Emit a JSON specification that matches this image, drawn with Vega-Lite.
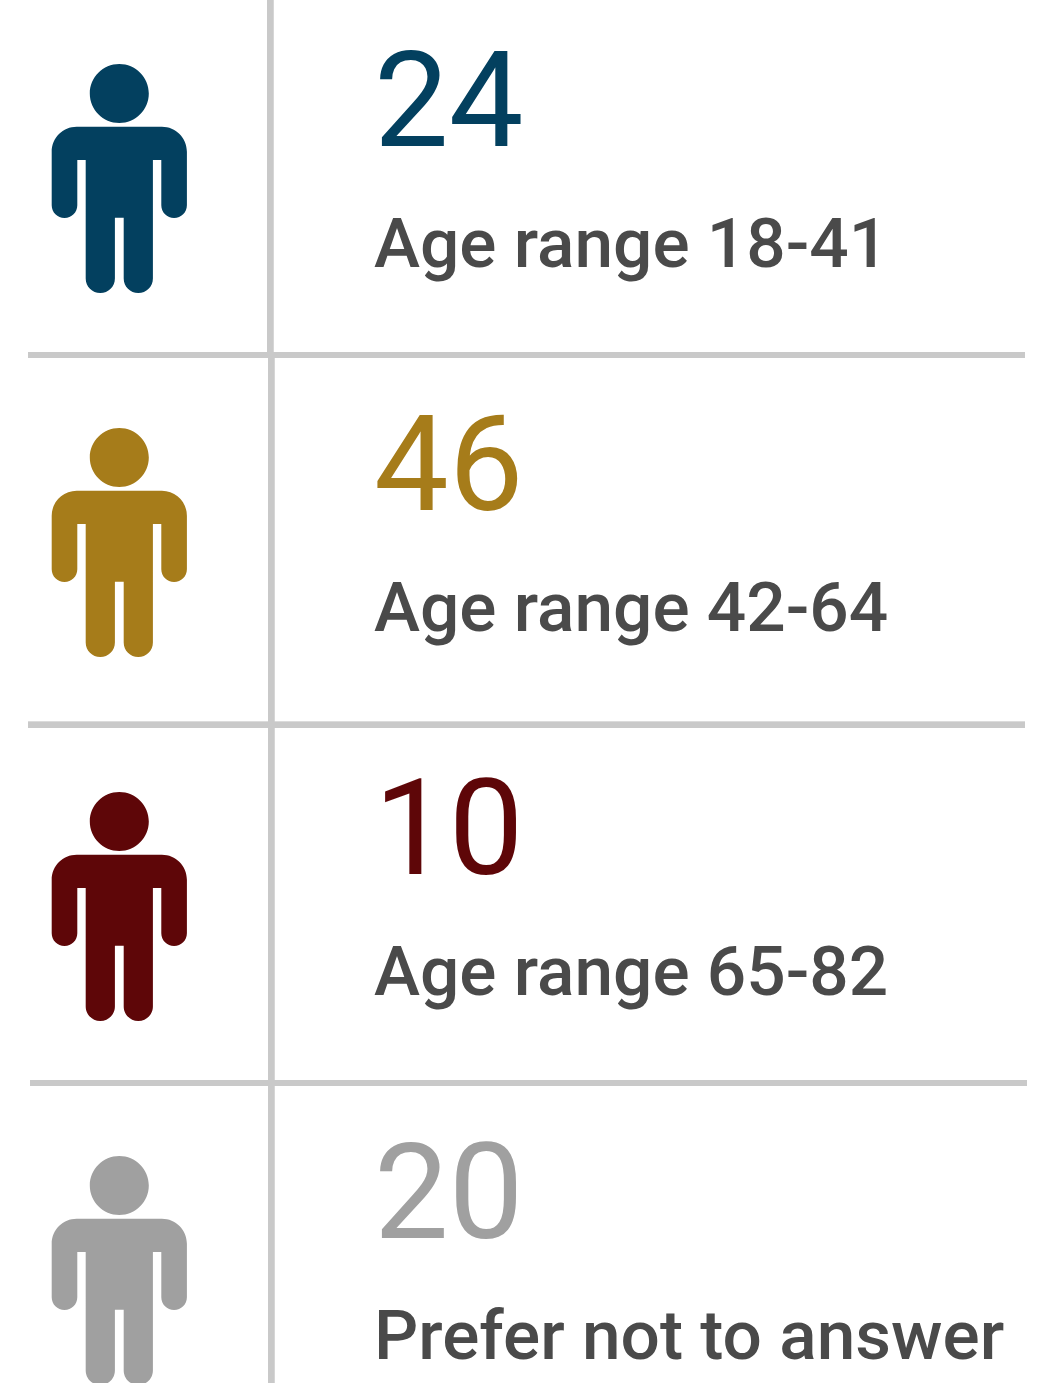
{
  "$schema": "https://vega.github.io/schema/vega-lite/v6.json",
  "width": 1062,
  "height": 1383,
  "autosize": {"type": "fit", "contains": "padding"},
  "padding": 0,
  "background": "#ffffff",
  "config": {"view": {"stroke": null}},
  "data": {"values": [
    {"row": 0, "count": 24, "label": "Age range 18-41", "group": "18-41"},
    {"row": 1, "count": 46, "label": "Age range 42-64", "group": "42-64"},
    {"row": 2, "count": 10, "label": "Age range 65-82", "group": "65-82"},
    {"row": 3, "count": 20, "label": "Prefer not to answer", "group": "No answer"}
  ]},
  "encoding": {
    "y": {"field": "row", "type": "quantitative", "axis": null, "scale": {"domain": [-0.489, 3.3104], "reverse": true, "nice": false, "zero": false}}
  },
  "layer": [
    {
      "mark": {"type": "rule", "clip": true, "stroke": "#c9c9c9", "strokeWidth": 6},
      "encoding": {
        "x": {"datum": 270.3, "type": "quantitative", "axis": null, "scale": {"domain": [0, 1062], "nice": false, "zero": false}},
        "y": {"datum": -0.489, "type": "quantitative"},
        "y2": {"datum": 0.4863}
      }
    },
    {
      "mark": {"type": "rule", "clip": true, "stroke": "#c9c9c9", "strokeWidth": 6},
      "encoding": {
        "x": {"datum": 271.3, "type": "quantitative"},
        "y": {"datum": 0.4863, "type": "quantitative"},
        "y2": {"datum": 3.3104}
      }
    },
    {
      "mark": {"type": "rule", "clip": true, "stroke": "#c9c9c9", "strokeWidth": 6},
      "encoding": {
        "x": {"datum": 28, "type": "quantitative"},
        "x2": {"datum": 1025},
        "y": {"datum": 0.4863, "type": "quantitative"}
      }
    },
    {
      "mark": {"type": "rule", "clip": true, "stroke": "#c9c9c9", "strokeWidth": 6},
      "encoding": {
        "x": {"datum": 28, "type": "quantitative"},
        "x2": {"datum": 1025},
        "y": {"datum": 1.5019, "type": "quantitative"}
      }
    },
    {
      "mark": {"type": "rule", "clip": true, "stroke": "#c9c9c9", "strokeWidth": 6},
      "encoding": {
        "x": {"datum": 30, "type": "quantitative"},
        "x2": {"datum": 1027},
        "y": {"datum": 2.4863, "type": "quantitative"}
      }
    },
    {
      "mark": {
        "type": "point",
        "clip": true,
        "filled": true,
        "opacity": 1,
        "size": 40000,
        "shape": "M -0.295 -0.845 A 0.295 0.295 0 1 1 0.295 -0.845 A 0.295 0.295 0 1 1 -0.295 -0.845 Z M -0.426 -0.513 L 0.426 -0.513 A 0.25 0.25 0 0 1 0.676 -0.263 L 0.676 0.272 A 0.128 0.128 0 0 1 0.42 0.272 L 0.42 -0.18 L 0.336 -0.18 L 0.336 1.004 A 0.146 0.146 0 0 1 0.044 1.004 L 0.044 0.397 L -0.044 0.397 L -0.044 1.004 A 0.146 0.146 0 0 1 -0.336 1.004 L -0.336 -0.18 L -0.42 -0.18 L -0.42 0.272 A 0.128 0.128 0 0 1 -0.676 0.272 L -0.676 -0.263 A 0.25 0.25 0 0 1 -0.426 -0.513 Z"
      },
      "encoding": {
        "x": {"datum": 119.3, "type": "quantitative"},
        "color": {"field": "group", "type": "nominal", "legend": null, "scale": {"domain": ["18-41", "42-64", "65-82", "No answer"], "range": ["#03405f", "#a67c1a", "#5e0608", "#a0a0a0"]}}
      }
    },
    {
      "mark": {"type": "text", "clip": true, "font": "Roboto", "fontSize": 133, "align": "left", "baseline": "alphabetic", "dy": -32},
      "encoding": {
        "x": {"datum": 374, "type": "quantitative"},
        "text": {"field": "count", "type": "nominal"},
        "color": {"field": "group", "type": "nominal", "legend": null}
      }
    },
    {
      "mark": {"type": "text", "clip": true, "font": "Roboto", "fontSize": 69.4, "fontWeight": 500, "align": "left", "baseline": "alphabetic", "dy": 89, "fill": "#4a4a4a"},
      "encoding": {
        "x": {"datum": 374, "type": "quantitative"},
        "text": {"field": "label", "type": "nominal"}
      }
    }
  ]
}
